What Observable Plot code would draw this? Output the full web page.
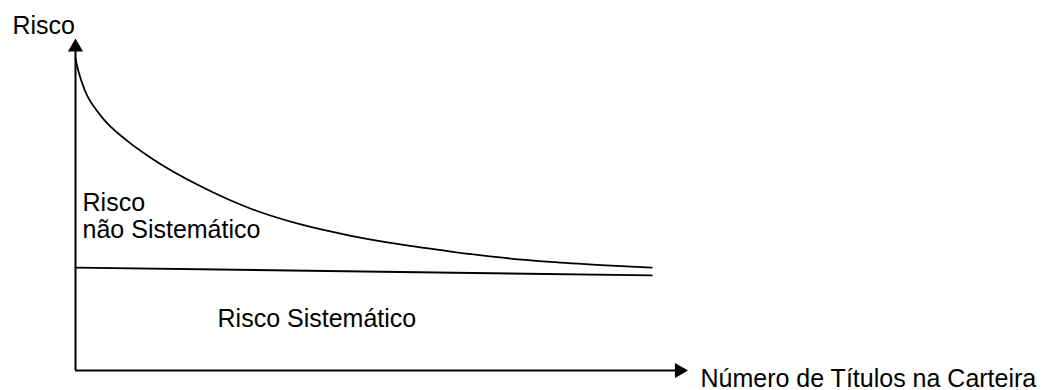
<!DOCTYPE html>
<html>
<head>
<meta charset="utf-8">
<script src="https://cdn.jsdelivr.net/npm/d3@7"></script>
<script src="https://cdn.jsdelivr.net/npm/@observablehq/plot@0.6"></script>
<style>
  html, body { margin: 0; padding: 0; background: #fff; }
</style>
</head>
<body>
<div id="chart"></div>
<script>
// Total risk curve (number of securities vs. risk)
const totalX = [0, 0.2, 0.6, 1.6, 3.4, 4.9, 8.2, 11.4, 14.7, 17.9, 21.2, 24.5, 27.7, 31, 34.3, 37.6];
const totalY = [18.9, 18.1, 17, 15.5, 13.9, 12.9, 11.15, 9.82, 8.85, 8.18, 7.64, 7.21, 6.85, 6.58, 6.39, 6.24];
// Systematic risk line
const systX = [0, 37.6];
const systY = [6.24, 5.76];
// Axis extents (arrow heads)
const axisXEnd = 39.4;
const axisYEnd = 19.6;
// Labels
const yLabel = "Risco";
const xLabel = "Número de Títulos na Carteira";
const unsysLabel = "Risco\nnão Sistemático";
const sysLabel = "Risco Sistemático";
const labelX = [-4.11, 40.78, 0.46, 9.27];
const labelY = [20.42, -0.97, 8.06, 2.61];

const total = totalX.map((x, i) => ({x, y: totalY[i]}));
const syst = systX.map((x, i) => ({x, y: systY[i]}));
const labels = [yLabel, xLabel, unsysLabel, sysLabel].map((t, i) => ({t, x: labelX[i], y: labelY[i]}));

const chart = Plot.plot({
  width: 1048,
  height: 390,
  marginLeft: 75,
  marginRight: 360,
  marginTop: 40,
  marginBottom: 20,
  x: {domain: [0, 40], axis: null},
  y: {domain: [0, 20], axis: null},
  style: {fontFamily: "'Liberation Sans', Arial, sans-serif", background: "#fff", overflow: "visible"},
  marks: [
    Plot.ruleX([0], {y1: 0, y2: axisYEnd, stroke: "#000", strokeWidth: 2}),
    Plot.ruleY([0], {x1: 0, x2: axisXEnd, stroke: "#000", strokeWidth: 2}),
    Plot.dot([{x: 0, y: axisYEnd}], {x: "x", y: "y", symbol: "triangle", r: 5.6, fill: "#000", stroke: null}),
    Plot.dot([{x: axisXEnd, y: 0}], {x: "x", y: "y", symbol: "triangle", r: 5.6, fill: "#000", stroke: null, rotate: 90}),
    Plot.line(total, {x: "x", y: "y", curve: "monotone-x", stroke: "#000", strokeWidth: 1.8}),
    Plot.line(syst, {x: "x", y: "y", stroke: "#000", strokeWidth: 1.8}),
    Plot.text(labels, {x: "x", y: "y", text: "t", textAnchor: "start", lineAnchor: "bottom", lineHeight: 1.08, fontSize: 25, fill: "#000"})
  ]
});
document.getElementById("chart").appendChild(chart);
</script>
</body>
</html>
